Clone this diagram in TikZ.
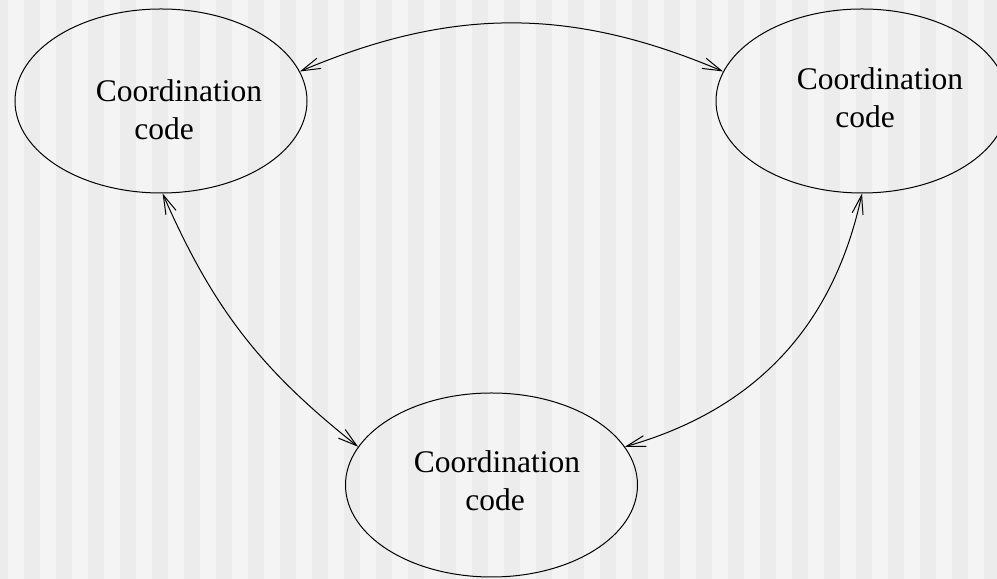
\documentclass[tikz,border=0pt]{standalone}
\usepackage{fontspec}
\setmainfont{Liberation Serif}
\usepackage{xcolor}
\usetikzlibrary{shapes.geometric,arrows.meta}
\definecolor{stripelight}{HTML}{F4F4F4}
\definecolor{stripedark}{HTML}{ECECEC}

\begin{document}
\begin{tikzpicture}[x=1bp, y=1bp,
  coordbox/.style={draw, ellipse, line width=1bp, minimum width=292bp, minimum height=184bp, inner sep=0pt},
  coordtext/.style={align=center, inner sep=0pt, font=\fontsize{31.5bp}{38bp}\selectfont},
  link/.style={draw, line width=1bp, {Straight Barb[length=19bp,width=11bp]}-{Straight Barb[length=19bp,width=11bp]}}]%
\useasboundingbox (0,0) rectangle (997,579);%
\fill[stripelight] (0,0) rectangle (997,579);%
\foreach \i in {0,...,31} {%
  \fill[stripedark] (32*\i-8,0) rectangle (32*\i+8,579);%
}%
\node[coordbox] (codeA) at (161,478) {};%
\node[coordbox] (codeB) at (862,478) {};%
\node[coordbox] (codeC) at (491.5,94) {};%
\node[coordtext] (textA) at (179,469) {Coordination\\code\hspace*{30bp}};%
\node[coordtext] (textB) at (880,481) {Coordination\\code\hspace*{30bp}};%
\node[coordtext] (textC) at (497,98) {Coordination\\code\hspace*{4bp}};%
\draw[link] (codeA.12) to[bend left=23] (codeB.168);%
\draw[link] (codeA.-89) to[bend right=14] (codeC.164);%
\draw[link] (codeB.-90) to[bend left=31] (codeC.16);%
\end{tikzpicture}
\end{document}
